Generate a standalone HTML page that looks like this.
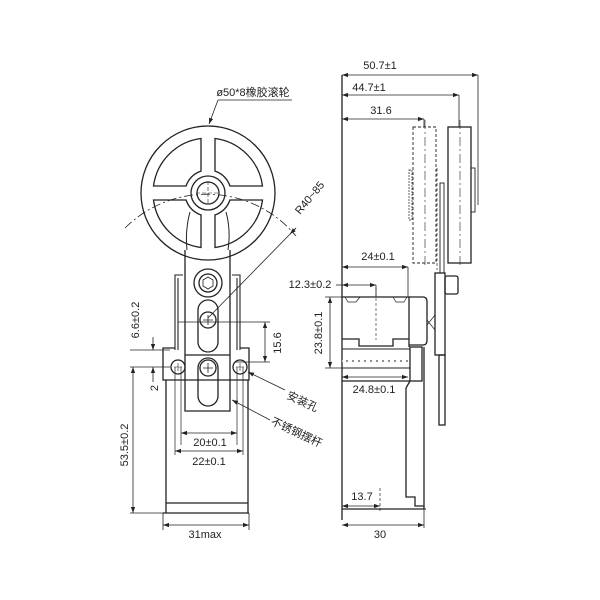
<!DOCTYPE html>
<html><head><meta charset="utf-8"><style>html,body{margin:0;padding:0;background:#fff}svg{display:block}text{font-family:"Liberation Sans","Noto Sans CJK SC",sans-serif;font-size:11px;fill:#222}</style></head>
<body>
<svg width="600" height="600" viewBox="0 0 600 600" xmlns="http://www.w3.org/2000/svg">
<defs>
<marker id="a" viewBox="0 0 10 10" refX="10" refY="5" markerWidth="8" markerHeight="6" orient="auto-start-reverse" markerUnits="userSpaceOnUse"><path d="M0,1.5L10,5L0,8.5z" fill="#222"/></marker>
</defs>
<g fill="none" stroke="#222" stroke-width="1.3">
<!-- wheel -->
<circle cx="208" cy="193" r="67"/>
<g transform="translate(208,193)">
<path id="w" d="M7,-21.9 L7,-54.5 A55,55 0 0 1 54.5,-7 L21.9,-7 A23,23 0 0 0 7,-21.9Z"/>
<use href="#w" transform="rotate(90)"/><use href="#w" transform="rotate(180)"/><use href="#w" transform="rotate(270)"/>
<circle r="17"/><circle r="11"/>
</g>
<path d="M196,193H220M208,181V205" stroke-width="0.6" stroke-dasharray="4,2"/>
<!-- R arc -->
<path d="M125,228 A116,116 0 0 1 296,236" stroke-width="0.8" stroke-dasharray="9,3,2,3"/>
<!-- arm -->
<path d="M187,250Q185,230 190,212M228,250Q231,230 226,212" stroke-width="1"/>
<path d="M185,250V411H230V250"/>
<path d="M175,350V275H183M240,350V275H232M178,350V278M237,350V278" stroke-width="1.1"/>
<circle cx="208" cy="283" r="14"/><circle cx="208" cy="283" r="9"/><polygon points="208,277 213,280 213,286 208,289 203,286 203,280" stroke-width="0.8"/>
<rect x="198" y="300" width="20" height="52" rx="10"/>
<circle cx="208" cy="320" r="8"/><path d="M203,320H213M208,315V325" stroke-width="0.8"/>
<path d="M185,355H230"/>
<rect x="198" y="358" width="20" height="48" rx="10"/>
<circle cx="208" cy="368" r="8"/><path d="M203,368H213M208,363V373" stroke-width="0.8"/>
<!-- plate & body -->
<path d="M175,348H163V380H249V348H240"/>
<path d="M166,380V513H248V380M166,503H248M163,513H249"/>
<circle cx="178" cy="367" r="7"/><circle cx="240" cy="367" r="7"/>
<path d="M174,367H182M178,363V371M236,367H244M240,363V371" stroke-width="0.6"/>
<path d="M181,367V445M175,367V455M237,367V445M243,367V455" stroke-width="0.7"/>
<!-- left dims -->
<g stroke-width="0.8">
<path d="M130,350H170M130,367H170M130,513H163M163,513V530M249,513V530M178,322H270M235,362H270"/>
<path d="M153,337V350" marker-end="url(#a)"/><path d="M153,382V367" marker-end="url(#a)"/>
<path d="M133,367V513" marker-start="url(#a)" marker-end="url(#a)"/>
<path d="M265,322V362" marker-start="url(#a)" marker-end="url(#a)"/>
<path d="M181,433H237" marker-start="url(#a)" marker-end="url(#a)"/>
<path d="M175,451H243" marker-start="url(#a)" marker-end="url(#a)"/>
<path d="M163,525H249" marker-start="url(#a)" marker-end="url(#a)"/>
<path d="M218,100H292M218,100L209,124" marker-end="url(#a)"/>
<path d="M208,318L296,228" /><path d="M296,228L290,234" marker-end="url(#a)"/>
<path d="M285,390L248,372" marker-end="url(#a)"/>
<path d="M270,420L232,400" marker-end="url(#a)"/>
</g>
<!-- right view -->
<path d="M342,75V520"/>
<path d="M478,75V205M459,95V127M424,119V127" stroke-width="0.8"/>
<rect x="413" y="127" width="23" height="136" stroke-dasharray="3,2" stroke-width="0.9"/>
<rect x="448" y="127" width="23" height="136"/>
<rect x="471" y="168" width="4" height="44" stroke-width="0.9"/>
<path d="M425,120V265M460,120V265" stroke-width="0.6" stroke-dasharray="9,3,2,3"/>
<rect x="409" y="170" width="3" height="50" stroke-dasharray="2,1" stroke-width="0.7"/>
<path d="M437,168V270" stroke-dasharray="3,2" stroke-width="0.7"/>
<rect x="440" y="183" width="4" height="90" stroke-width="0.9"/>
<!-- head -->
<path d="M342,297H409V347M342,339H359V346H393V339H409"/>
<path d="M409,297H423Q427,297 427,302V340Q427,345 423,345H409"/>
<path d="M345,297L348,302H356L360,297M393,297L396,302H404L407,297" stroke-width="0.7"/>
<path d="M342,349H410V368H342M342,361H410" stroke-width="1"/>
<path d="M342,361H410" stroke="#fff" stroke-dasharray="4,2" stroke-width="1.3"/>
<rect x="410" y="347" width="12" height="34"/>
<path d="M342,381H410M424,347V509H342M406,388V497H415V506H424M406,388L410,381"/>
<path d="M342,509H426" stroke-width="1.1"/>
<rect x="435" y="273" width="10" height="82"/>
<rect x="445" y="276" width="13" height="18" rx="2"/>
<rect x="439" y="355" width="6" height="70"/>
<path d="M427,325L435,315M427,320L435,330" stroke-width="0.7"/>
<path d="M376,288V340" stroke-width="0.6" stroke-dasharray="3,2"/>
<path d="M380,488V512" stroke-width="0.7" stroke-dasharray="3,2"/>
<g stroke-width="0.8">
<path d="M342,75H478" marker-start="url(#a)" marker-end="url(#a)"/>
<path d="M342,95H459" marker-start="url(#a)" marker-end="url(#a)"/>
<path d="M342,119H424" marker-start="url(#a)" marker-end="url(#a)"/>
<path d="M342,267H408" marker-start="url(#a)" marker-end="url(#a)"/>
<path d="M408,267V297M376,285V297"/>
<path d="M342,285H376" marker-start="url(#a)" marker-end="url(#a)"/>
<path d="M336,285H342"/>
<path d="M325,297H342M325,368H342"/>
<path d="M330,297V368" marker-start="url(#a)" marker-end="url(#a)"/>
<path d="M342,377H408" marker-start="url(#a)" marker-end="url(#a)"/>
<path d="M342,506H380" marker-start="url(#a)" marker-end="url(#a)"/>
<path d="M424,509V528"/>
<path d="M342,525H424" marker-start="url(#a)" marker-end="url(#a)"/>
</g>
</g>
<g>
<text x="253" y="96" text-anchor="middle">ø50*8橡胶滚轮</text>
<text x="300" y="215" transform="rotate(-50 300 215)">R40~85</text>
<text transform="translate(139,320) rotate(-90)" text-anchor="middle">6.6±0.2</text>
<text transform="translate(158,388) rotate(-90)" text-anchor="middle">2</text>
<text transform="translate(128,445) rotate(-90)" text-anchor="middle">53.5±0.2</text>
<text transform="translate(281,343) rotate(-90)" text-anchor="middle">15.6</text>
<text x="210" y="446" text-anchor="middle">20±0.1</text>
<text x="209" y="465" text-anchor="middle">22±0.1</text>
<text x="205" y="538" text-anchor="middle">31max</text>
<text transform="translate(286,398) rotate(25)">安装孔</text>
<text transform="translate(270,424) rotate(25)">不锈钢摆杆</text>
<text x="380" y="69" text-anchor="middle">50.7±1</text>
<text x="369" y="91" text-anchor="middle">44.7±1</text>
<text x="381" y="114" text-anchor="middle">31.6</text>
<text x="378" y="260" text-anchor="middle">24±0.1</text>
<text x="310" y="288" text-anchor="middle">12.3±0.2</text>
<text transform="translate(322,333) rotate(-90)" text-anchor="middle">23.8±0.1</text>
<text x="374" y="393" text-anchor="middle">24.8±0.1</text>
<text x="362" y="500" text-anchor="middle">13.7</text>
<text x="380" y="538" text-anchor="middle">30</text>
</g>
</svg>
</body></html>
